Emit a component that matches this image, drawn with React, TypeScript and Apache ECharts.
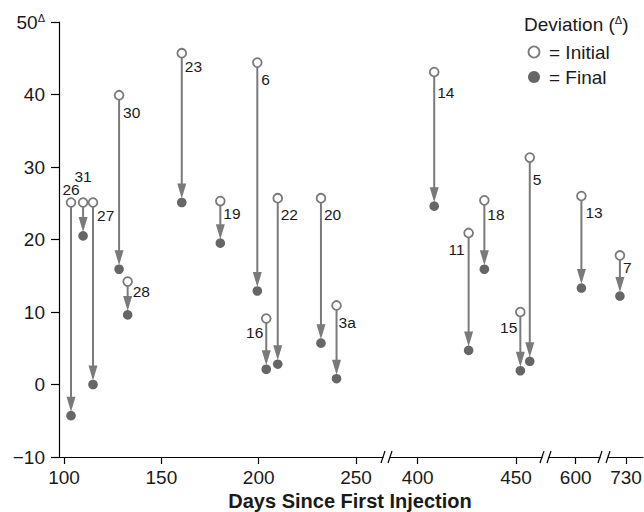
import React, { useEffect, useRef } from 'react';
import * as echarts from 'echarts';

// ---------- data ----------
const pointLabels = ['26', '31', '27', '30', '28', '23', '19', '6', '16', '22', '20', '3a', '14', '11', '18', '15', '5', '13', '7'];
const days = [103.6, 109.8, 114.9, 128.3, 132.7, 160.5, 180.3, 199.3, 203.9, 209.8, 232.0, 240.0, 408.4, 425.9, 433.9, 452.2, 457.0, 602.9, 726.9];
const initialDev = [25.1, 25.1, 25.1, 39.9, 14.2, 45.7, 25.3, 44.4, 9.1, 25.7, 25.7, 10.9, 43.1, 20.9, 25.4, 10.0, 31.3, 26.0, 17.8];
const finalDev = [-4.3, 20.5, 0.0, 15.9, 9.6, 25.1, 19.5, 12.9, 2.1, 2.8, 5.7, 0.8, 24.6, 4.7, 15.9, 1.9, 3.2, 13.3, 12.2];
const xTickValues = [[100, 150, 200, 250], [400, 450], [600], [730]];
const yMin = -10;
const yMax = 50;
const yStep = 10;
const xAxisTitle = 'Days Since First Injection';
const legendTitle = 'Deviation (';
const legendInitial = '= Initial';
const legendFinal = '= Final';

// ---------- layout / style ----------
const FONT = '"Liberation Sans", Arial, Helvetica, sans-serif';
const LINE = '#7a7a7a';
const DOT = '#666666';
const TXT = '#1a1a1a';

const segments = [
  { left: 59, width: 324, min: 97.43, max: 263.87 },
  { left: 390, width: 152, min: 385.91, max: 463.22 },
  { left: 549, width: 51, min: 586.42, max: 612.36 },
  { left: 608, width: 35, min: 720.84, max: 738.64 },
];
const gridTop = 22;
const gridBottom = 55;

// label placement per point: [align, dx, dy]
const labelPlace: [string, number, number][] = [
  ['center', 0, -13], ['center', 0, -26], ['left', 4, 13], ['left', 4, 17], ['left', 5, 10],
  ['left', 3, 13], ['left', 3, 12], ['left', 4, 17], ['right', -3, 14], ['left', 3, 16],
  ['left', 3, 16], ['left', 2, 17], ['left', 3, 20], ['right', -4, 17], ['left', 3, 14],
  ['right', -3, 15], ['left', 3, 22], ['left', 4, 16], ['left', 3, 12],
];

const slashXs = [381, 388, 540, 547, 598, 606];

export default function App() {
  const ref = useRef<HTMLDivElement>(null);
  useEffect(() => {
    if (!ref.current) return;
    const chart = echarts.init(ref.current, undefined, { renderer: 'svg' });

    const grids = segments.map((s) => ({
      left: s.left, width: s.width, top: gridTop, bottom: gridBottom,
      containLabel: false, outerBoundsMode: 'none',
    }));

    const xAxes = segments.map((s, gi) => ({
      type: 'value', gridIndex: gi, min: s.min, max: s.max,
      axisLine: { show: true, onZero: false, lineStyle: { color: '#000', width: 1.2 } },
      axisTick: { show: true, customValues: xTickValues[gi], length: 7, lineStyle: { color: '#000', width: 1.2 } },
      axisLabel: { show: true, customValues: xTickValues[gi], margin: 11, fontSize: 19, color: TXT, fontFamily: FONT },
      splitLine: { show: false },
    }));

    const yAxes = segments.map((s, gi) => ({
      type: 'value', gridIndex: gi, min: yMin, max: yMax, interval: yStep, show: gi === 0,
      axisLine: { show: true, lineStyle: { color: '#000', width: 1.2 } },
      axisTick: { show: true, length: 8, lineStyle: { color: '#000', width: 1.2 } },
      axisLabel: {
        margin: 14, fontSize: 19, color: TXT, fontFamily: FONT,
        formatter: (v: number) => (v === yMax ? `{n|${v}}{s|Δ}` : v < 0 ? `\u2212${-v}` : `${v}`),
        rich: {
          n: { fontSize: 19, color: TXT, fontFamily: FONT },
          s: { fontSize: 11, color: TXT, fontFamily: FONT, verticalAlign: 'top', lineHeight: 14 },
        },
      },
      splitLine: { show: false },
    }));

    const series = segments.map((s, gi) => {
      const idxs = days.map((d, i) => i).filter((i) => days[i] >= s.min && days[i] <= s.max);
      return {
        type: 'custom', xAxisIndex: gi, yAxisIndex: gi, clip: false,
        data: idxs.map((i) => [days[i], initialDev[i], finalDev[i]]),
        renderItem: (params: any, api: any) => {
          const i = idxs[params.dataIndex];
          const p0 = api.coord([api.value(0), api.value(1)]);
          const p1 = api.coord([api.value(0), api.value(2)]);
          const x = p0[0];
          const tipY = p1[1] - 4;
          const headL = 15;
          const headW = 4.5;
          const [al, dx, dy] = labelPlace[i];
          return {
            type: 'group',
            children: [
              { type: 'line', shape: { x1: x, y1: p0[1] + 4, x2: x, y2: tipY - headL + 1 }, style: { stroke: LINE, lineWidth: 2 } },
              { type: 'polygon', shape: { points: [[x - headW, tipY - headL], [x + headW, tipY - headL], [x, tipY]] }, style: { fill: LINE } },
              { type: 'circle', shape: { cx: x, cy: p1[1], r: 4.8 }, style: { fill: DOT } },
              { type: 'circle', shape: { cx: x, cy: p0[1], r: 4.4 }, style: { fill: '#fff', stroke: LINE, lineWidth: 1.8 } },
              {
                type: 'text', x: x + dx, y: p0[1] + dy,
                style: {
                  text: pointLabels[i], fill: TXT, font: `15.5px ${FONT}`,
                  textAlign: al, textVerticalAlign: 'middle', align: al, verticalAlign: 'middle',
                },
              },
            ],
          };
        },
      };
    });

    const graphics: any[] = [];
    slashXs.forEach((sx) => {
      graphics.push({ type: 'line', shape: { x1: sx, y1: 463, x2: sx + 4, y2: 451 }, style: { stroke: '#000', lineWidth: 1.2 } });
    });
    graphics.push({
      type: 'text', x: 350, y: 501,
      style: { text: xAxisTitle, font: `bold 20px ${FONT}`, fill: TXT, textAlign: 'center', textVerticalAlign: 'middle', align: 'center', verticalAlign: 'middle' },
    });
    graphics.push({
      type: 'text', x: 524, y: 24,
      style: {
        text: `{t|${legendTitle}}{s|Δ}{t|)}`, fill: TXT, textAlign: 'left', textVerticalAlign: 'middle', align: 'left', verticalAlign: 'middle',
        rich: {
          t: { fontSize: 19, fontFamily: FONT, fill: TXT, color: TXT },
          s: { fontSize: 11, fontFamily: FONT, fill: TXT, color: TXT, verticalAlign: 'top', lineHeight: 14 },
        },
      },
    });
    graphics.push({ type: 'circle', shape: { cx: 534, cy: 52, r: 5.5 }, style: { fill: '#fff', stroke: LINE, lineWidth: 1.8 } });
    graphics.push({
      type: 'text', x: 549, y: 52,
      style: { text: legendInitial, font: `19px ${FONT}`, fill: TXT, textAlign: 'left', textVerticalAlign: 'middle', align: 'left', verticalAlign: 'middle' },
    });
    graphics.push({ type: 'circle', shape: { cx: 534, cy: 77, r: 6 }, style: { fill: DOT } });
    graphics.push({
      type: 'text', x: 549, y: 77,
      style: { text: legendFinal, font: `19px ${FONT}`, fill: TXT, textAlign: 'left', textVerticalAlign: 'middle', align: 'left', verticalAlign: 'middle' },
    });

    chart.setOption({
      animation: false,
      backgroundColor: '#fff',
      textStyle: { fontFamily: FONT },
      grid: grids,
      xAxis: xAxes,
      yAxis: yAxes,
      series,
      graphic: graphics,
    } as any);

    return () => chart.dispose();
  }, []);

  return <div ref={ref} style={{ position: 'fixed', left: 0, top: 0, width: 644, height: 512 }} />;
}
